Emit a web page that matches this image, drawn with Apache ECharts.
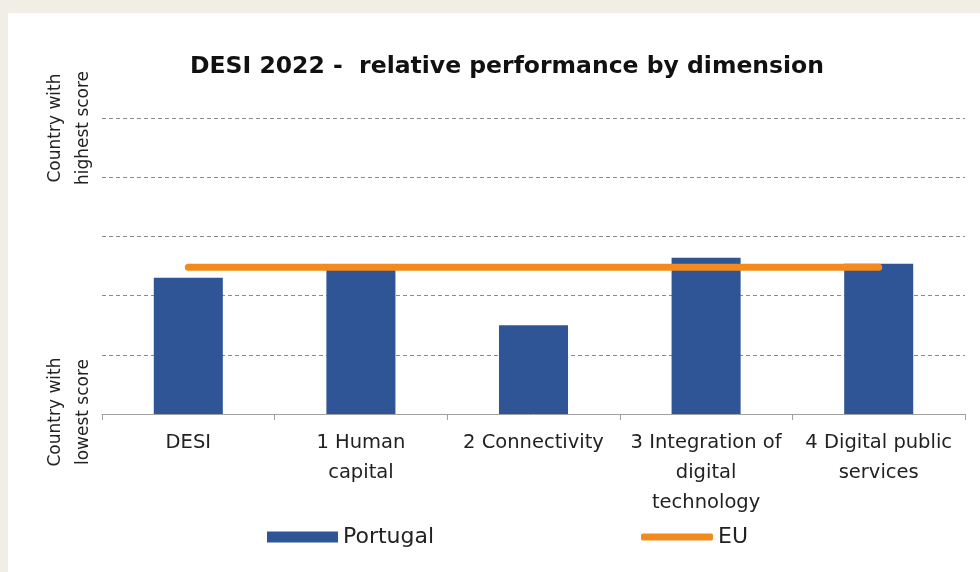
<!DOCTYPE html>
<html>
<head>
<meta charset="utf-8">
<script src="https://cdn.jsdelivr.net/npm/echarts@6/dist/echarts.min.js"></script>
<style>
html,body{margin:0;padding:0;width:980px;height:572px;background:#f1eee6;overflow:hidden;}
#c{position:absolute;left:8px;top:13px;width:972px;height:559px;background:#ffffff;}
</style>
</head>
<body>
<div id="c"></div>
<script>
var categories = ['DESI', '1 Human\ncapital', '2 Connectivity', '3 Integration of\ndigital\ntechnology', '4 Digital public\nservices'];
var portugal = [2.30, 2.45, 1.50, 2.64, 2.54];
var eu = [2.48, 2.48, 2.48, 2.48, 2.48];
var yMin = 0, yMax = 5, yStep = 1;

var font = 'DejaVu Sans';
var chart = echarts.init(document.getElementById('c'), null, {renderer: 'canvas'});
chart.setOption({
  backgroundColor: '#ffffff',
  animation: false,
  title: {
    text: 'DESI 2022 -  relative performance by dimension',
    left: 494, top: 37, textAlign: 'center',
    textStyle: {fontFamily: font, fontWeight: 'bold', fontSize: 23.5, color: '#111'}
  },
  grid: {left: 94, right: 15, top: 105, bottom: 158},
  xAxis: {
    type: 'category', data: categories,
    axisLine: {lineStyle: {color: '#a0a0a0', width: 1}},
    axisTick: {show: true, length: 6, lineStyle: {color: '#a0a0a0'}},
    axisLabel: {interval: 0, margin: 14, fontFamily: font, fontSize: 19.5, color: '#222', lineHeight: 30}
  },
  yAxis: {
    type: 'value', min: yMin, max: yMax, interval: yStep,
    axisLine: {show: false}, axisTick: {show: false}, axisLabel: {show: false},
    splitLine: {lineStyle: {color: '#8a8a8a', type: [4, 3], width: 1}}
  },
  legend: [
    {data: [{name: 'Portugal', icon: 'rect'}], left: 254, top: 508, itemWidth: 71, itemHeight: 11,
     textStyle: {fontFamily: font, fontSize: 22, color: '#222'}},
    {data: [{name: 'EU', icon: 'roundRect'}], left: 628, top: 508, itemWidth: 72, itemHeight: 7,
     textStyle: {fontFamily: font, fontSize: 22, color: '#222'}}
  ],
  graphic: [
    {type: 'text', x: 62, y: 115, rotation: Math.PI / 2,
     style: {text: 'Country with\nhighest score', fontFamily: font, fontSize: 17, lineHeight: 28, fill: '#222', align: 'center', verticalAlign: 'middle'}},
    {type: 'text', x: 62, y: 399, rotation: Math.PI / 2,
     style: {text: 'Country with\nlowest score', fontFamily: font, fontSize: 17, lineHeight: 28, fill: '#222', align: 'center', verticalAlign: 'middle'}}
  ],
  series: [
    {name: 'Portugal', type: 'bar', data: portugal, barWidth: '40%', itemStyle: {color: '#2f5597'}, z: 2},
    {name: 'EU', type: 'line', data: eu, symbol: 'none', itemStyle: {color: '#f28a1e'},
     lineStyle: {color: '#f28a1e', width: 7, cap: 'round'}, z: 3}
  ]
});
</script>
</body>
</html>
